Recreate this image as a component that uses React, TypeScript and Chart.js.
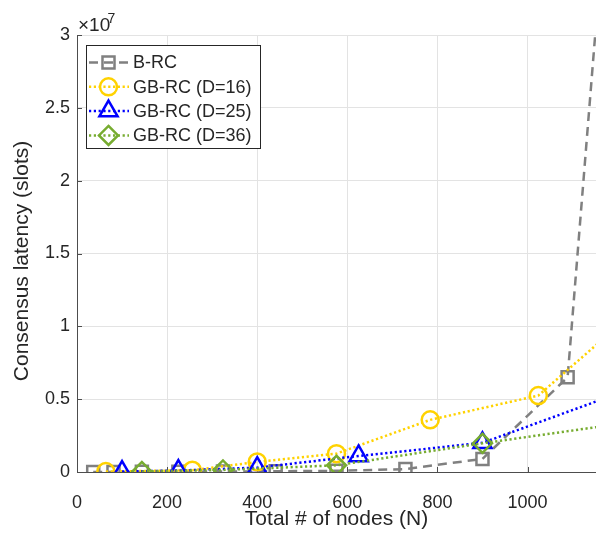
import React, { useEffect, useRef } from 'react';
import { Chart, registerables } from 'chart.js';

Chart.register(...registerables);

// ---- data ----
const seriesLabels = ['B-RC', 'GB-RC (D=16)', 'GB-RC (D=25)', 'GB-RC (D=36)'];
const nodesBRC = [36, 81, 144, 225, 324, 441, 576, 729, 900, 1089, 1296];
const latencyBRC = [2e3, 5e3, 1e4, 2e4, 3e4, 5e4, 8e4, 2e5, 9e5, 6.5e6, 8.6e7];
const nodesD16 = [64, 256, 400, 576, 784, 1024, 1296];
const latencyD16 = [3e4, 1.2e5, 6.9e5, 1.26e6, 3.58e6, 5.25e6, 1.26e7];
const nodesD25 = [100, 225, 400, 625, 900, 1225];
const latencyD25 = [3e4, 1e5, 3e5, 1.1e6, 2.0e6, 5.66e6];
const nodesD36 = [144, 324, 576, 900, 1296];
const latencyD36 = [4e4, 1.4e5, 4.6e5, 1.97e6, 3.71e6];
const xTickValues = [0, 200, 400, 600, 800, 1000];
const yTickValues = [0, 5e6, 1e7, 1.5e7, 2e7, 2.5e7, 3e7];
const xTitle = 'Total # of nodes (N)';
const yTitle = 'Consensus latency (slots)';

const FONT = "'Liberation Sans', Arial, Helvetica, sans-serif";
const TEXT = '#262626';
const AXIS = '#4d4d4d';
const GRID = '#e3e3e3';

type Style = 'circle' | 'rect' | 'triangle' | 'rectRot';

function drawMarker(ctx: CanvasRenderingContext2D, style: Style, x: number, y: number, r: number, color: string, lw: number) {
  ctx.save();
  ctx.setLineDash([]);
  ctx.strokeStyle = color;
  ctx.lineWidth = lw;
  ctx.beginPath();
  if (style === 'circle') {
    ctx.arc(x, y, r, 0, Math.PI * 2);
  } else if (style === 'rect') {
    const s = Math.SQRT1_2 * r;
    ctx.rect(x - s, y - s, 2 * s, 2 * s);
  } else if (style === 'triangle') {
    for (let k = 0; k < 3; k++) {
      const a = -Math.PI / 2 + (k * 2 * Math.PI) / 3;
      const px = x + Math.cos(a) * r;
      const py = y + Math.sin(a) * r;
      if (k === 0) ctx.moveTo(px, py); else ctx.lineTo(px, py);
    }
    ctx.closePath();
  } else {
    ctx.moveTo(x, y - r);
    ctx.lineTo(x + r, y);
    ctx.lineTo(x, y + r);
    ctx.lineTo(x - r, y);
    ctx.closePath();
  }
  ctx.stroke();
  ctx.restore();
}

const decorPlugin = {
  id: 'decor',
  beforeDatasetsDraw(chart: any) {
    const { ctx, chartArea, scales } = chart;
    ctx.save();
    ctx.strokeStyle = AXIS;
    ctx.lineWidth = 1;
    ctx.beginPath();
    xTickValues.forEach((v) => {
      const px = Math.round(scales.x.getPixelForValue(v)) + 0.5;
      ctx.moveTo(px, chartArea.bottom);
      ctx.lineTo(px, chartArea.bottom - 5);
    });
    yTickValues.forEach((v) => {
      const py = Math.round(scales.y.getPixelForValue(v)) + 0.5;
      ctx.moveTo(chartArea.left, py);
      ctx.lineTo(chartArea.left + 5, py);
    });
    ctx.stroke();
    ctx.restore();
  },
  afterDraw(chart: any) {
    const { ctx } = chart;
    ctx.save();
    // exponent label
    ctx.fillStyle = TEXT;
    ctx.textBaseline = 'alphabetic';
    ctx.textAlign = 'left';
    ctx.font = `19px ${FONT}`;
    ctx.fillText('\u00d710', 78, 31);
    ctx.font = `14px ${FONT}`;
    ctx.fillText('7', 107.5, 22.5);
    // y title
    ctx.translate(22.5, 261);
    ctx.rotate(-Math.PI / 2);
    ctx.font = `21px ${FONT}`;
    ctx.textAlign = 'center';
    ctx.textBaseline = 'middle';
    ctx.fillText(yTitle, 0, 0);
    ctx.restore();

    // legend
    ctx.save();
    const bx = 86, by = 45, bw = 174, bh = 103;
    ctx.fillStyle = '#ffffff';
    ctx.fillRect(bx, by, bw, bh);
    ctx.strokeStyle = TEXT;
    ctx.lineWidth = 1;
    ctx.strokeRect(bx + 0.5, by + 0.5, bw, bh);
    chart.data.datasets.forEach((ds: any, i: number) => {
      const y = 62.5 + i * 24.3;
      ctx.strokeStyle = ds.borderColor;
      ctx.lineWidth = ds.borderWidth;
      ctx.setLineDash(ds.borderDash || []);
      ctx.beginPath();
      ctx.moveTo(89, y);
      ctx.lineTo(129, y);
      ctx.stroke();
      drawMarker(ctx, ds.pointStyle, 108.5, y, ds.pointRadius, ds.pointBorderColor, ds.pointBorderWidth);
      ctx.setLineDash([]);
      ctx.fillStyle = TEXT;
      ctx.font = `18px ${FONT}`;
      ctx.textAlign = 'left';
      ctx.textBaseline = 'middle';
      ctx.fillText(ds.label, 133, y + 1);
    });
    ctx.restore();
  },
};

function toPoints(xs: number[], ys: number[]) {
  return xs.map((x, i) => ({ x, y: ys[i] }));
}

export default function App() {
  const ref = useRef<HTMLCanvasElement | null>(null);

  useEffect(() => {
    if (!ref.current) return;
    const mk = (label: string, data: any[], color: string, dash: number[], style: Style, r: number, order: number, width: number) => ({
      label,
      data,
      borderColor: color,
      backgroundColor: 'rgba(0,0,0,0)',
      borderWidth: width,
      borderDash: dash,
      borderCapStyle: 'butt',
      pointStyle: style,
      pointRadius: r,
      pointHoverRadius: r,
      pointBorderColor: color,
      pointBackgroundColor: 'rgba(0,0,0,0)',
      pointBorderWidth: 2.5,
      tension: 0,
      fill: false,
      order,
    });
    const chart = new Chart(ref.current, {
      type: 'line',
      data: {
        datasets: [
          mk(seriesLabels[0], toPoints(nodesBRC, latencyBRC), '#808080', [9, 6], 'rect', 8.5, 4, 2.5),
          mk(seriesLabels[1], toPoints(nodesD16, latencyD16), '#FFD200', [2.2, 2.6], 'circle', 8.5, 3, 2.5),
          mk(seriesLabels[2], toPoints(nodesD25, latencyD25), '#0000FF', [2.2, 2.6], 'triangle', 10.5, 2, 2.5),
          mk(seriesLabels[3], toPoints(nodesD36, latencyD36), '#77AC30', [2.2, 2.6], 'rectRot', 9.5, 1, 2.5),
        ] as any,
      },
      options: {
        responsive: false,
        animation: false,
        devicePixelRatio: 1,
        layout: { autoPadding: false, padding: { top: 35, right: 0, left: 0, bottom: 0 } },
        plugins: {
          legend: { display: false },
          tooltip: { enabled: false },
        },
        scales: {
          x: {
            type: 'linear',
            min: 0,
            max: 1152,
            afterBuildTicks: (s: any) => {
              s.ticks = xTickValues.map((v) => ({ value: v }));
            },
            afterFit: (s: any) => {
              s.height = 63;
              s.paddingRight = 0;
              s.paddingLeft = 0;
            },
            ticks: {
              color: TEXT,
              font: { family: FONT, size: 18 },
              padding: 20,
              maxRotation: 0,
              callback: (v: any) => String(v),
            },
            grid: { color: GRID, drawTicks: false, lineWidth: 1 },
            border: { display: true, color: AXIS, width: 1 },
            title: {
              display: true,
              text: xTitle,
              color: TEXT,
              font: { family: FONT, size: 21 },
              padding: { top: 0, bottom: 3 },
            },
          },
          y: {
            type: 'linear',
            min: 0,
            max: 3e7,
            afterBuildTicks: (s: any) => {
              s.ticks = yTickValues.map((v) => ({ value: v }));
            },
            afterFit: (s: any) => {
              s.width = 77;
              s.paddingTop = 0;
              s.paddingBottom = 0;
            },
            ticks: {
              color: TEXT,
              font: { family: FONT, size: 18 },
              padding: 7,
              callback: (v: any) => String(Number(v) / 1e7),
            },
            grid: { color: GRID, drawTicks: false, lineWidth: 1 },
            border: { display: true, color: AXIS, width: 1 },
          },
        },
      },
      plugins: [decorPlugin as any],
    });
    return () => chart.destroy();
  }, []);

  return (
    <div style={{ position: 'absolute', left: 0, top: 0, width: 596, height: 535, background: '#fff' }}>
      <canvas ref={ref} width={596} height={535} style={{ display: 'block', width: 596, height: 535 }} />
    </div>
  );
}
